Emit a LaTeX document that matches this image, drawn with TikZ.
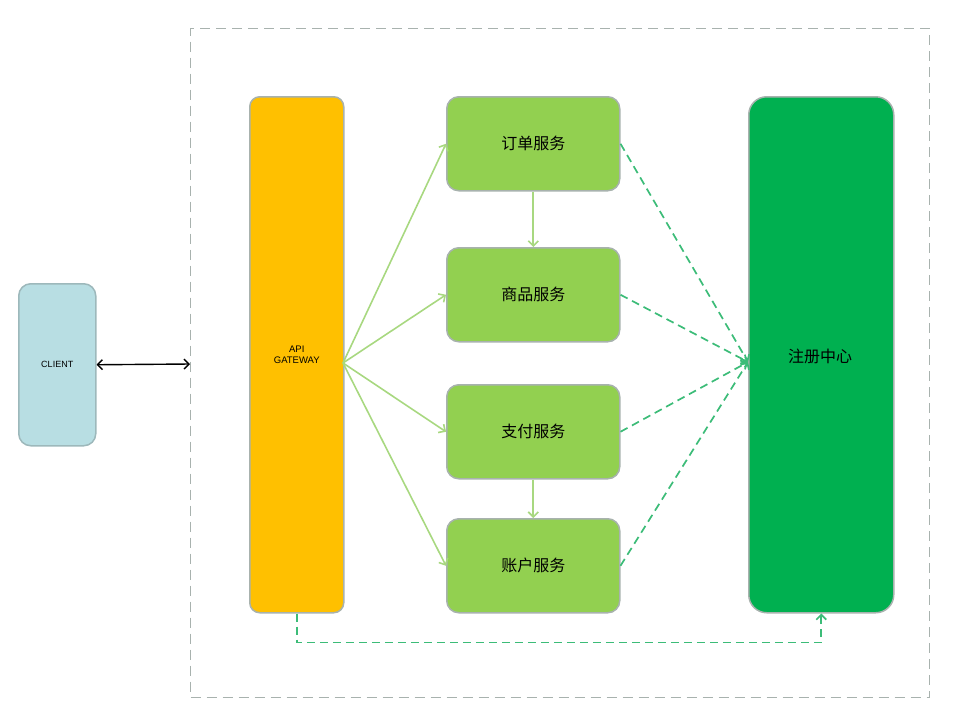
\documentclass[tikz,border=0pt]{standalone}
\usepackage{fontspec}
\setmainfont{Liberation Sans}
\newfontfamily\cjk{Noto Sans CJK SC}
\usetikzlibrary{arrows.meta}
\definecolor{clientfill}{HTML}{B8DEE3}
\definecolor{clientdraw}{HTML}{9DB8BB}
\definecolor{gwfill}{HTML}{FFC000}
\definecolor{svcfill}{HTML}{92D050}
\definecolor{regfill}{HTML}{00B050}
\definecolor{boxdraw}{HTML}{A8B2AE}
\definecolor{lgline}{HTML}{A8D880}
\definecolor{dgline}{HTML}{3CBC78}
\tikzset{
  x=1pt, y=-1pt,
  box/.style={draw=boxdraw, line width=1.5pt, rounded corners=12pt, inner sep=0pt, anchor=north west},
  svc/.style={box, fill=svcfill, minimum width=173pt, minimum height=94pt, font=\cjk\fontsize{16}{18}\selectfont},
  tip/.style={-{Straight Barb[length=5pt,width=10pt]}},
  solidg/.style={draw=lgline, line width=1.6pt, tip},
  dashg/.style={draw=dgline, line width=1.7pt, dash pattern=on 8pt off 5pt, tip},
}
\begin{document}
\begin{tikzpicture}
\useasboundingbox (0,0) rectangle (963,718);
% outer dashed region
\node[draw=boxdraw, line width=1.4pt, dash pattern=on 10pt off 6pt, anchor=north west, minimum width=739pt, minimum height=669pt, inner sep=0pt] (outer) at (190,28) {};
% client
\node[box, fill=clientfill, draw=clientdraw, minimum width=77pt, minimum height=162pt, font=\fontsize{9}{11}\selectfont] (client) at (18,283) {CLIENT};
% gateway
\node[box, fill=gwfill, minimum width=94pt, minimum height=516pt, rounded corners=10pt, font=\fontsize{9.5}{11.5}\selectfont, align=center] (gw) at (249,96) {API\\GATEWAY};
% services
\node[svc] (order) at (446,96) {订单服务};
\node[svc] (goods) at (446,247) {商品服务};
\node[svc] (pay) at (446,384) {支付服务};
\node[svc] (acct) at (446,518) {账户服务};
% registry
\node[box, fill=regfill, minimum width=145pt, minimum height=516pt, rounded corners=18pt] (reg) at (748,96) {};
\node[font=\cjk\fontsize{16}{18}\selectfont] (regtxt) at (820,356) {注册中心};
% client <-> outer
\coordinate (gwin) at (190,364);
\draw[line width=1.4pt, {Straight Barb[length=5pt,width=10pt]}-{Straight Barb[length=5pt,width=10pt]}] (client.east) -- (gwin);
% gateway to services
\coordinate (gwout) at (343,363);
\draw[solidg] (gwout) -- (order.west);
\draw[solidg] (gwout) -- (goods.west);
\draw[solidg] (gwout) -- (pay.west);
\draw[solidg] (gwout) -- (acct.west);
\draw[solidg] (order.south) -- (goods.north);
\draw[solidg] (pay.south) -- (acct.north);
% services to registry
\coordinate (regin) at (748,362);
\draw[dashg] (order.east) -- (regin);
\draw[dashg] (goods.east) -- (regin);
\draw[dashg] (pay.east) -- (regin);
\draw[dashg] (acct.east) -- (regin);
% gateway to registry bottom
\draw[dashg] (gw.south) -- ++(0,29) -| (reg.south);
\end{tikzpicture}
\end{document}
